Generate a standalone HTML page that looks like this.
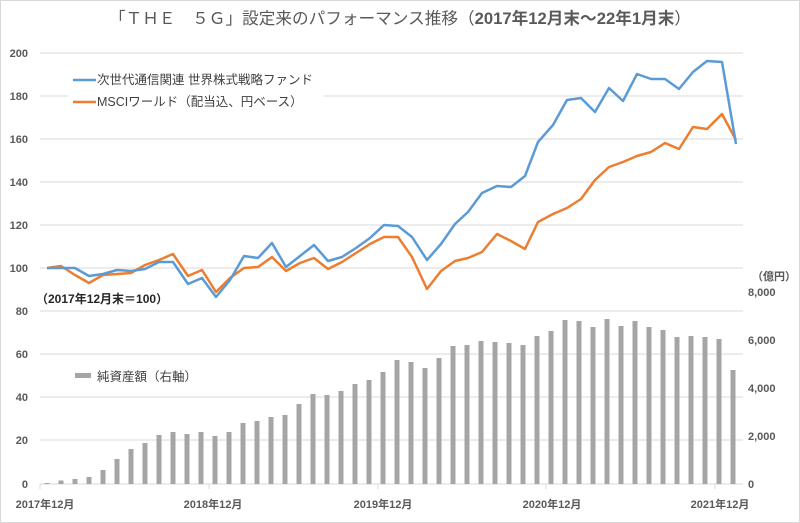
<!DOCTYPE html>
<html><head><meta charset="utf-8"><style>
html,body{margin:0;padding:0;background:#fff}
svg{display:block;font-family:"Liberation Sans","Noto Sans CJK JP",sans-serif}
</style></head><body>
<svg width="800" height="523" viewBox="0 0 800 523" xmlns="http://www.w3.org/2000/svg">
<rect x="0.5" y="0.5" width="799" height="522" fill="#fff" stroke="#d9d9d9"/>
<text x="400" y="24" text-anchor="middle" font-size="16.5" fill="#595959" textLength="582" lengthAdjust="spacingAndGlyphs">「ＴＨＥ　５Ｇ」設定来のパフォーマンス推移（<tspan font-weight="bold">2017年12月末～22年1月末</tspan>）</text>
<g stroke="#d9d9d9" stroke-width="1">
<line x1="40" y1="53" x2="743" y2="53"/>
<line x1="40" y1="96" x2="743" y2="96"/>
<line x1="40" y1="139" x2="743" y2="139"/>
<line x1="40" y1="182" x2="743" y2="182"/>
<line x1="40" y1="225" x2="743" y2="225"/>
<line x1="40" y1="268" x2="743" y2="268"/>
<line x1="40" y1="311" x2="743" y2="311"/>
<line x1="40" y1="354" x2="743" y2="354"/>
<line x1="40" y1="397" x2="743" y2="397"/>
<line x1="40" y1="440" x2="743" y2="440"/>
<line x1="40" y1="484" x2="743" y2="484"/>
<line x1="40" y1="484" x2="40" y2="489"/>
<line x1="209" y1="484" x2="209" y2="489"/>
<line x1="378" y1="484" x2="378" y2="489"/>
<line x1="546" y1="484" x2="546" y2="489"/>
<line x1="715" y1="484" x2="715" y2="489"/>
</g>
<g font-size="11" font-weight="bold" fill="#595959" text-anchor="end">
<text x="28" y="57">200</text><text x="28" y="100">180</text><text x="28" y="143">160</text>
<text x="28" y="186">140</text><text x="28" y="229">120</text><text x="28" y="272">100</text>
<text x="28" y="315">80</text><text x="28" y="358">60</text><text x="28" y="401">40</text>
<text x="28" y="444">20</text><text x="28" y="488">0</text>
</g>
<g font-size="11" font-weight="bold" fill="#595959">
<text x="748" y="296">8,000</text><text x="748" y="344">6,000</text><text x="748" y="392">4,000</text>
<text x="748" y="440">2,000</text><text x="748" y="488">0</text>
<text x="752" y="280">（億円）</text>
</g>
<g font-size="11" font-weight="bold" fill="#595959" text-anchor="middle">
<text x="45" y="508">2017年12月</text><text x="213" y="508">2018年12月</text>
<text x="383" y="508">2019年12月</text><text x="552" y="508">2020年12月</text>
<text x="720" y="508">2021年12月</text>
</g>
<g fill="#a5a5a5">
<rect x="44.5" y="483" width="5" height="1"/><rect x="58.5" y="480.5" width="5" height="3.5"/>
<rect x="72.5" y="479" width="5" height="5"/><rect x="86.5" y="477" width="5" height="7"/>
<rect x="100.5" y="470" width="5" height="14"/><rect x="114.5" y="459" width="5" height="25"/>
<rect x="128.5" y="449" width="5" height="35"/><rect x="142.5" y="443" width="5" height="41"/>
<rect x="156.5" y="435" width="5" height="49"/><rect x="170.5" y="432" width="5" height="52"/>
<rect x="184.5" y="434" width="5" height="50"/><rect x="198.5" y="432" width="5" height="52"/>
<rect x="212.5" y="436" width="5" height="48"/><rect x="226.5" y="432" width="5" height="52"/>
<rect x="240.5" y="423" width="5" height="61"/><rect x="254.5" y="421" width="5" height="63"/>
<rect x="268.5" y="417" width="5" height="67"/><rect x="282.5" y="415" width="5" height="69"/>
<rect x="296.5" y="404" width="5" height="80"/><rect x="310.5" y="394" width="5" height="90"/>
<rect x="324.5" y="395" width="5" height="89"/><rect x="338.5" y="391" width="5" height="93"/>
<rect x="352.5" y="384" width="5" height="100"/><rect x="366.5" y="380" width="5" height="104"/>
<rect x="380.5" y="372" width="5" height="112"/><rect x="394.5" y="360" width="5" height="124"/>
<rect x="408.5" y="362" width="5" height="122"/><rect x="422.5" y="368" width="5" height="116"/>
<rect x="436.5" y="358" width="5" height="126"/><rect x="450.5" y="346" width="5" height="138"/>
<rect x="464.5" y="345" width="5" height="139"/><rect x="478.5" y="341" width="5" height="143"/>
<rect x="492.5" y="342" width="5" height="142"/><rect x="506.5" y="343" width="5" height="141"/>
<rect x="520.5" y="345" width="5" height="139"/><rect x="534.5" y="336" width="5" height="148"/>
<rect x="548.5" y="331" width="5" height="153"/><rect x="562.5" y="320" width="5" height="164"/>
<rect x="576.5" y="321" width="5" height="163"/><rect x="590.5" y="327" width="5" height="157"/>
<rect x="604.5" y="319" width="5" height="165"/><rect x="618.5" y="326" width="5" height="158"/>
<rect x="632.5" y="321" width="5" height="163"/><rect x="646.5" y="327" width="5" height="157"/>
<rect x="660.5" y="330" width="5" height="154"/><rect x="674.5" y="337" width="5" height="147"/>
<rect x="688.5" y="336" width="5" height="148"/><rect x="702.5" y="337" width="5" height="147"/>
<rect x="716.5" y="339" width="5" height="145"/><rect x="730.5" y="370" width="5" height="114"/>
</g>
<polyline fill="none" stroke="#ed7d31" stroke-width="2.5" stroke-linejoin="round" points="47,268 61,266 75,275 89,283 103,275 117,274 131,273 145,265 159,260 173,254 188,276 202,270 216,292 230,278 244,268 258,267 272,257 286,271 300,263 314,258 328,269 342,262 356,253 370,244 384,237 398,237 412,257 427,289 441,271 455,261 468,258 482,252 497,234 511,241 525,249 538,222 553,214 567,208 581,199 595,180 609,167 623,162 637,156 651,152 665,143 679,149 693,127 707,129 722,114 736,140"/>
<polyline fill="none" stroke="#5b9bd5" stroke-width="2.5" stroke-linejoin="round" points="47,268 61,268 75,268 89,276 103,274 117,270 131,271 145,269 159,262 173,262 188,284 202,278 216,297 230,280 244,256 258,258 272,243 286,267 300,256 314,245 328,261 342,257 356,248 370,238 384,225 398,226 412,237 427,260 441,244 455,224 468,212 482,193 497,186 511,187 525,176 538,142 553,125 567,100 581,98 595,112 609,88 623,101 637,74 651,79 665,79 679,89 693,72 707,61 722,62 736,144"/>
<rect x="68" y="68" width="256" height="42" fill="#fff"/>
<line x1="73" y1="80" x2="96" y2="80" stroke="#5b9bd5" stroke-width="2.5"/>
<line x1="73" y1="102" x2="96" y2="102" stroke="#ed7d31" stroke-width="2.5"/>
<g font-size="12.5" fill="#404040">
<text x="97" y="84">次世代通信関連 世界株式戦略ファンド</text>
<text x="97" y="106">MSCIワールド（配当込、円ベース）</text>
</g>
<rect x="36" y="290" width="130" height="16" fill="#fff"/>
<text x="36" y="303" font-size="12" font-weight="bold" fill="#262626">（2017年12月末＝100）</text>
<rect x="75" y="373" width="16" height="5" fill="#a5a5a5"/>
<text x="97" y="381" font-size="12.5" fill="#404040">純資産額（右軸）</text>
</svg>
</body></html>
